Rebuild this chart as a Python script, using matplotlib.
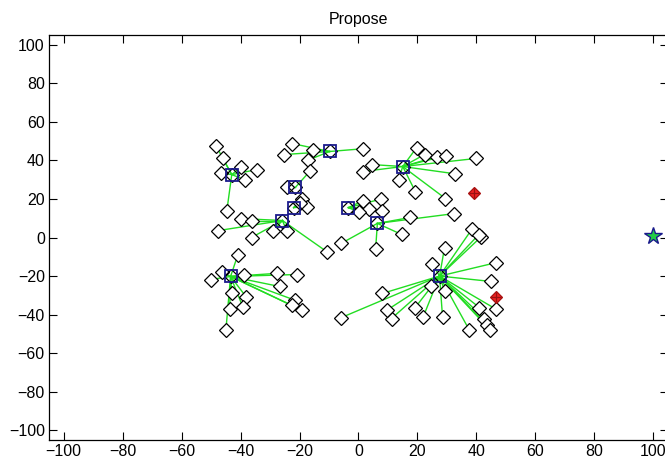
import matplotlib
matplotlib.use("Agg")
import matplotlib.pyplot as plt
import numpy as np

plt.rcParams['font.family'] = ['Liberation Sans', 'DejaVu Sans']

# Cluster heads
head_x = [-43.0, -9.8, -21.4, -22.0, -25.8, -3.4, 15.0, 6.4, -43.4, 27.5]
head_y = [32.6, 44.6, 26.0, 15.5, 8.8, 15.5, 36.8, 7.3, -20.2, -20.0]

# Member nodes, with the index of the cluster head they connect to
node_x = [-48.2, -46.0, -46.8, -39.7, -38.6, -34.6, -44.7,
          -22.4, -25.4, -15.6, 1.4, -17.3,
          -24.4, -16.3,
          -19.0, -17.6, -20.0,
          -39.7, -36.3, -47.5, -36.3, -29.0, -24.4, -10.8,
          1.4, 3.7, 7.8, 8.0, 0.3,
          19.7, 22.4, 26.8, 29.8, 40.0, 4.7, 1.4, 13.6, 19.3, 32.9, 29.5,
          17.6, 32.5, 14.6, 5.8, -5.8,
          -41.0, -50.2, -46.4, -39.0, -27.8, -21.0, -26.8, -38.0, -39.3,
          -43.7, -43.0, -21.4, -22.7, -19.0, -45.0,
          38.6, 41.7, 40.8, 29.2, 25.0, 46.8, 45.0, 46.8, 41.0, 42.7, 43.7,
          44.7, 37.6, 28.5, 22.0, 19.0, 11.2, 9.5, 8.1, -5.8, 24.7, 29.2]
node_y = [47.2, 41.0, 33.7, 36.8, 30.0, 35.2, 13.5,
          48.7, 43.0, 45.6, 46.0, 40.0,
          26.0, 34.7,
          20.0, 16.0, 18.0,
          9.8, 8.8, 3.6, 0.0, 3.6, 3.6, -7.3,
          19.0, 15.0, 20.0, 14.0, 13.0,
          46.6, 43.0, 42.0, 42.5, 41.0, 37.8, 34.2, 30.0, 23.8, 33.0, 20.2,
          10.4, 12.4, 1.6, -6.2, -3.0,
          -9.3, -21.8, -18.0, -19.7, -18.6, -19.2, -25.4, -31.0, -35.8,
          -37.3, -29.0, -32.6, -35.2, -37.8, -48.2,
          4.6, 0.5, 1.5, -5.2, -13.5, -13.0, -22.8, -37.3, -36.3, -42.0, -45.6,
          -48.0, -48.0, -41.0, -41.0, -36.8, -42.0, -37.8, -29.0, -41.5, -24.9, -27.5]
node_head = [0, 0, 0, 0, 0, 0, 0,
             1, 1, 1, 1, 1,
             2, 2,
             3, 3, 3,
             4, 4, 4, 4, 4, 4, 4,
             5, 5, 5, 5, 5,
             6, 6, 6, 6, 6, 6, 6, 6, 6, 6, 6,
             7, 7, 7, 7, 7,
             8, 8, 8, 8, 8, 8, 8, 8, 8, 8, 8, 8, 8, 8, 8,
             9, 9, 9, 9, 9, 9, 9, 9, 9, 9, 9,
             9, 9, 9, 9, 9, 9, 9, 9, 9, 9, 9]

# Special (red) nodes and the sink
red_x = [39.3, 46.8]
red_y = [23.3, -31.0]
sink_x = [100.0]
sink_y = [1.0]

ticks = list(range(-100, 101, 20))

fig = plt.figure(figsize=(6.65, 4.63), dpi=100)
ax = fig.add_axes([49 / 665, 23 / 463, 619 / 665, 405 / 463])

for x, y, h in zip(node_x, node_y, node_head):
    ax.plot([x, head_x[h]], [y, head_y[h]], color='#22dd22', lw=1.0, zorder=1)

ax.plot(node_x, node_y, 'D', ms=7, mfc='white', mec='black', mew=0.9, ls='none', zorder=2)
ax.plot(head_x, head_y, 'D', ms=7, mfc='none', mec='black', mew=0.9, ls='none', zorder=3)
ax.plot(head_x, head_y, 's', ms=8, mfc='none', mec='#1a1a8c', mew=1.3, ls='none', zorder=4)
ax.plot(red_x, red_y, 'D', ms=6.5, mfc='#ee2222', mec='#aa1111', mew=0.9, ls='none', zorder=5)
ax.plot(red_x, red_y, '+', ms=7, mec='#991111', mew=0.9, ls='none', zorder=6)
ax.plot(sink_x, sink_y, '*', ms=13, mfc='#22cc44', mec='#1a1a8c', mew=1.0, ls='none', zorder=6)

ax.set_xlim(-105, 105)
ax.set_ylim(-105, 105)
ax.set_xticks(ticks)
ax.set_yticks(ticks)
ax.tick_params(direction='in', length=6, width=0.8, top=True, right=True,
               labelsize=11.5, colors='black', pad=3)
for s in ax.spines.values():
    s.set_linewidth(0.9)
ax.set_title('Propose', fontsize=11.5, pad=8)

fig.savefig('out.png', dpi=100)
